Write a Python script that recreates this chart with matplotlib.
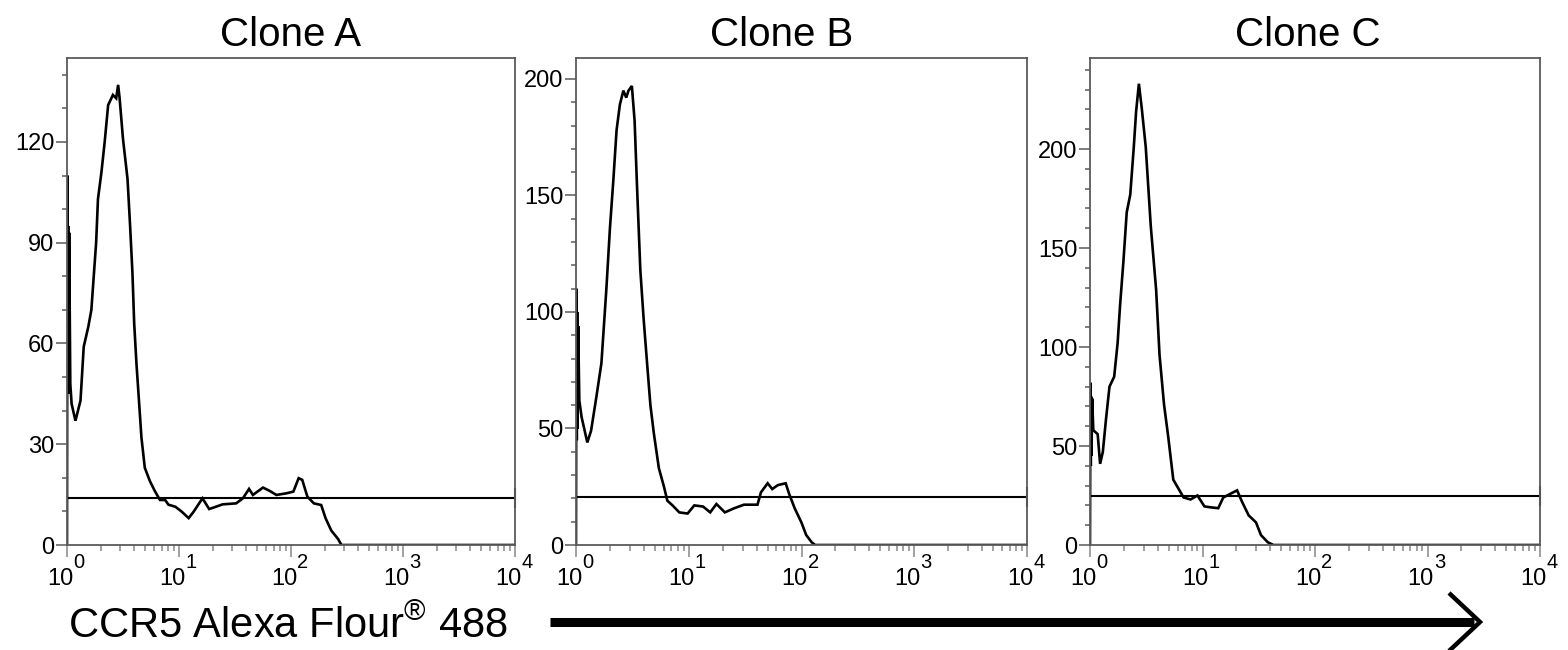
import numpy as np
import matplotlib
matplotlib.use("Agg")
import matplotlib.pyplot as plt
from matplotlib.lines import Line2D
from matplotlib.ticker import LogLocator, MultipleLocator, NullFormatter

plt.rcParams['font.family'] = ['Liberation Sans', 'DejaVu Sans']
plt.rcParams['mathtext.fontset'] = 'custom'
plt.rcParams['mathtext.rm'] = 'Liberation Sans'
plt.rcParams['mathtext.it'] = 'Liberation Sans:italic'
plt.rcParams['mathtext.bf'] = 'Liberation Sans:bold'

# CCR5 fluorescence (x) and cell counts (y)
titles = ['Clone A', 'Clone B', 'Clone C']
decades = [1, 10, 100, 1000, 10000]
decade_exp = ['0', '1', '2', '3', '4']

a_x = [1.0, 1.008, 1.016, 1.024, 1.032, 1.045, 1.07, 1.1, 1.135, 1.19, 1.32,
       1.41, 1.55, 1.65, 1.82, 1.89, 2.03, 2.17, 2.33, 2.57, 2.75, 2.86, 2.95,
       3.16, 3.47, 3.66, 3.84, 3.98, 4.17, 4.37, 4.62, 4.95, 5.5, 6.1, 6.76,
       7.52, 8.05, 9.27, 10.6, 12.2, 13.5, 16.2, 18.6, 21.4, 24.5, 32.4, 37.2,
       42.2, 45.7, 56.2, 64.6, 74.1, 91.2, 105, 117, 126, 140, 160, 186, 204,
       229, 263, 282, 10000]
a_y = [0, 110, 50, 95, 45, 93, 48, 42, 40, 37, 43,
       59, 65, 70, 90, 103, 111, 120, 131, 134, 133, 137, 133,
       121, 109, 95, 81, 66, 54, 44, 32, 23, 19, 16, 13.4,
       13.4, 12, 11.4, 9.9, 8, 9.9, 13.9, 10.7, 11.4, 12.1, 12.4, 13.9,
       16.7, 14.9, 17.1, 16.1, 14.9, 15.4, 15.9, 19.9, 19.4, 14.4, 12.4, 11.9, 7.9,
       4.3, 1.8, 0, 0]

b_x = [1.0, 1.008, 1.016, 1.024, 1.032, 1.045, 1.07, 1.12, 1.26, 1.36, 1.51,
       1.68, 1.86, 2.0, 2.14, 2.29, 2.45, 2.63, 2.79, 2.92, 3.13, 3.31, 3.47,
       3.72, 3.98, 4.27, 4.57, 4.9, 5.43, 6.03, 6.46, 7.18, 8.24, 9.77, 11.2,
       13.4, 15.5, 17.6, 20.9, 25.1, 30.9, 40.7, 43.7, 50.1, 55.0, 61.7, 72.4,
       77.6, 87.1, 100, 110, 123, 132, 10000]
b_y = [0, 110, 45, 100, 50, 94, 62, 55, 44, 49, 63,
       78, 110, 136, 156, 178, 189, 195, 192, 195, 197, 182, 155,
       118, 97, 78, 60, 48, 33, 25, 19, 17, 14, 13.5, 17,
       16.5, 14, 17.6, 14, 15.7, 17.3, 17.3, 22.6, 26.5, 24, 25.7, 26.5,
       22, 15.7, 9.6, 4.3, 1.2, 0, 0]

c_x = [1.0, 1.008, 1.016, 1.024, 1.032, 1.045, 1.07, 1.17, 1.23, 1.30, 1.39,
       1.49, 1.64, 1.76, 1.85, 1.98, 2.12, 2.28, 2.45, 2.57, 2.72, 2.88, 3.13,
       3.47, 3.87, 4.15, 4.55, 4.95, 5.5, 6.11, 6.79, 7.83, 9.02, 10.4, 11.9,
       13.8, 15.3, 17.6, 20.3, 22.4, 25.7, 29.9, 33.1, 38.0, 42.7, 10000]
c_y = [0, 82, 40, 75, 45, 74, 58, 56, 41, 47, 64,
       80, 85, 102, 121, 143, 168, 177, 201, 219, 233, 221, 201,
       161, 129, 96, 71, 55, 33, 28.5, 24, 23, 25, 19.5, 19,
       18.6, 24, 25.8, 27.6, 22, 15, 11.4, 5, 1.4, 0, 0]

curves_x = [a_x, b_x, c_x]
curves_y = [a_y, b_y, c_y]
gate_levels = [14, 20.5, 24.5]
gate_range = [1.03, 10000]
y_tops = [145, 209, 246]
y_majors = [30, 50, 50]

fig = plt.figure(figsize=(15.68, 6.5), dpi=100)
W, H = 1568.0, 650.0

# axes boxes in pixels: left, right
boxes = [(67, 515), (576, 1027), (1090, 1540)]
title_x = [0.5, 0.455, 0.483]
top_px, bottom_px = 58, 545

spine_col = '#5a5a5a'
for i in range(3):
    l, r = boxes[i]
    ax = fig.add_axes([l / W, (H - bottom_px) / H, (r - l) / W,
                       (bottom_px - top_px) / H])
    ax.plot(curves_x[i], curves_y[i], color='black', lw=1.9,
            solid_joinstyle='miter')
    ax.plot(gate_range, [gate_levels[i]] * 2, color='black', lw=1.5)
    ax.plot([gate_range[1]], [gate_levels[i]], marker='|', ms=15,
            mew=1.5, color='#333333', clip_on=False)

    ax.set_xscale('log')
    ax.set_xlim(1, 10000)
    ax.set_ylim(0, y_tops[i])
    ax.xaxis.set_major_locator(LogLocator(base=10, numticks=10))
    ax.xaxis.set_major_formatter(NullFormatter())
    ax.xaxis.set_minor_locator(LogLocator(base=10, subs=np.arange(2, 10),
                                          numticks=50))
    ax.xaxis.set_minor_formatter(NullFormatter())
    ax.yaxis.set_major_locator(MultipleLocator(y_majors[i]))
    ax.yaxis.set_minor_locator(MultipleLocator(10))

    ax.tick_params(axis='x', which='major', direction='out', length=8.5,
                   width=1.1, color='#888888')
    ax.tick_params(axis='x', which='minor', direction='out', length=4,
                   width=1.1, color='#888888')
    ax.tick_params(axis='y', which='major', direction='out', length=8,
                   width=1.1, color=spine_col, labelsize=17, pad=1)
    ax.tick_params(axis='y', which='minor', direction='out', length=3.5,
                   width=1.1, color=spine_col)
    for s in ax.spines.values():
        s.set_color(spine_col)
        s.set_linewidth(1.3)

    # log tick labels with a large exponent, as in the original
    for v, e in zip(decades, decade_exp):
        ax.annotate('10', xy=(v, 0), xycoords=('data', 'axes fraction'),
                    xytext=(4.5, -29), textcoords='offset points',
                    ha='right', va='baseline', fontsize=17,
                    annotation_clip=False)
        ax.annotate(e, xy=(v, 0), xycoords=('data', 'axes fraction'),
                    xytext=(4.5, -16.5), textcoords='offset points',
                    ha='left', va='baseline', fontsize=14.5,
                    annotation_clip=False)

    ax.set_title(titles[i], fontsize=29, x=title_x[i], pad=9)

fig.text(68 / W, (H - 638) / H, 'CCR5 Alexa Flour$^{\\mathregular{®}}$ 488',
         fontsize=30, ha='left', va='baseline')

# arrow along the x axis direction
y_arrow = (H - 622) / H
fig.add_artist(Line2D([550 / W, 1474 / W], [y_arrow, y_arrow], color='black',
                      lw=6.5, solid_capstyle='butt'))
fig.add_artist(Line2D([1449 / W, 1480 / W, 1449 / W],
                      [(H - 593) / H, y_arrow, (H - 651) / H], color='black',
                      lw=3.2, solid_joinstyle='miter', solid_capstyle='butt'))

fig.savefig('out.png', dpi=100)
